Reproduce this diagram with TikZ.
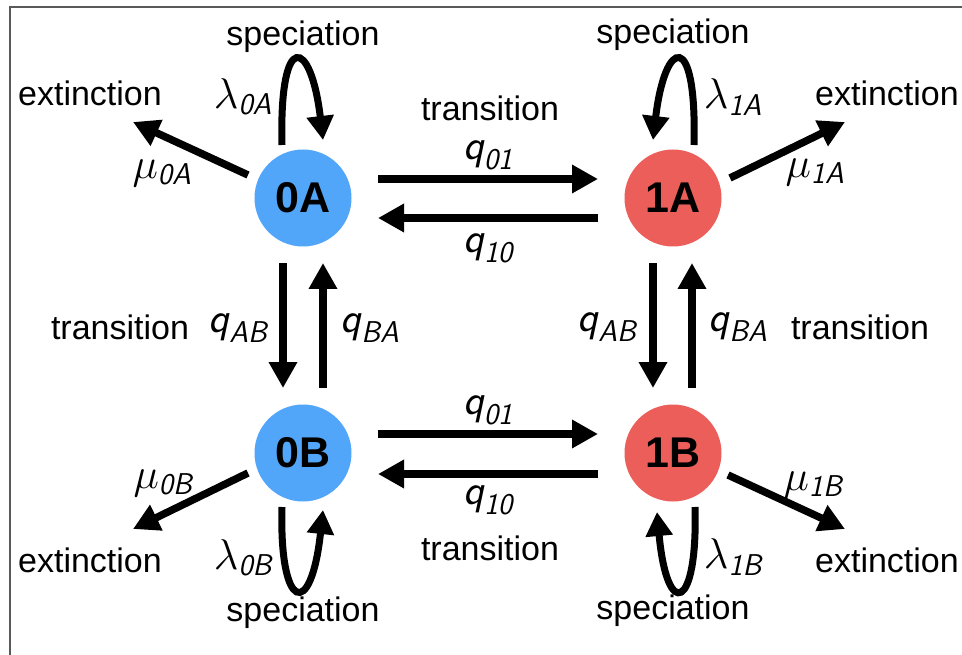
\RequirePackage{fix-cm}
\documentclass[tikz,border=0pt]{standalone}
\usepackage{amsmath}
\usepackage{fontspec}
\setmainfont{Liberation Sans}
\usetikzlibrary{arrows.meta,calc}
\definecolor{cblue}{RGB}{82,166,250}
\definecolor{cred}{RGB}{236,94,90}
\newcommand\sit[1]{\textsf{\itshape #1}}
\begin{document}
\begin{tikzpicture}[x=1pt,y=-1pt,
 state/.style={circle,minimum size=97pt,inner sep=0pt,font=\fontsize{43}{50}\selectfont\bfseries},
 lbl/.style={font=\fontsize{34}{40}\selectfont,inner sep=0pt},
 mlbl/.style={font=\fontsize{43}{50}\selectfont,inner sep=0pt},
 arr/.style={line width=7.5pt,-{Triangle[length=26pt,width=27pt]}},
 selfarr/.style={line width=7pt,-{Triangle[length=24pt,width=26pt]}}]
\useasboundingbox (0,0) rectangle (962,655);
\draw[black!65,line width=1.2pt] (10,655) -- (10,7) -- (962,7);

\node[state,fill=cblue] (A0) at (303,198) {0A};
\node[state,fill=cred]  (A1) at (673,198) {1A};
\node[state,fill=cblue] (B0) at (303,453) {0B};
\node[state,fill=cred]  (B1) at (673,453) {1B};

% horizontal transitions
\draw[arr] ($(A0)+(75,-19)$) -- ($(A1)+(-75,-19)$);
\draw[arr] ($(A1)+(-75,20)$) -- ($(A0)+(75,20)$);
\draw[arr] ($(B0)+(75,-19)$) -- ($(B1)+(-75,-19)$);
\draw[arr] ($(B1)+(-75,21)$) -- ($(B0)+(75,21)$);
% vertical transitions
\draw[arr] ($(A0)+(-20,65)$) -- ($(B0)+(-20,-65)$);
\draw[arr] ($(B0)+(20,-65)$) -- ($(A0)+(20,65)$);
\draw[arr] ($(A1)+(-20,65)$) -- ($(B1)+(-20,-65)$);
\draw[arr] ($(B1)+(19,-65)$) -- ($(A1)+(19,65)$);

% extinction
\coordinate (xA0) at (133,122);
\coordinate (xA1) at (845,122);
\coordinate (xB0) at (133,529);
\coordinate (xB1) at (845,529);
\draw[arr] ($(A0)+(-55,-23)$) -- (xA0);
\draw[arr] ($(A1)+(57,-20)$) -- (xA1);
\draw[arr] ($(B0)+(-55,20)$) -- (xB0);
\draw[arr] ($(B1)+(55,22)$) -- (xB1);

% speciation loops
\draw[selfarr] ($(A0)+(-21,-53)$) .. controls ($(A0)+(-24,-170)$) and ($(A0)+(8,-160)$) .. ($(A0)+(20,-58)$);
\draw[selfarr] ($(A1)+(21,-53)$) .. controls ($(A1)+(24,-170)$) and ($(A1)+(-8,-160)$) .. ($(A1)+(-20,-58)$);
\draw[selfarr] ($(B0)+(-21,54)$) .. controls ($(B0)+(-24,158)$) and ($(B0)+(8,168)$) .. ($(B0)+(20,57)$);
\draw[selfarr] ($(B1)+(22,54)$) .. controls ($(B1)+(25,158)$) and ($(B1)+(-6,168)$) .. ($(B1)+(-16,59)$);

% labels
\node[lbl] (sA0) at (303,37) {speciation};
\node[lbl] (sA1) at (673,35) {speciation};
\node[lbl] (sB0) at (303,613) {speciation};
\node[lbl] (sB1) at (673,611) {speciation};
\node[lbl] (eA0) at (90,93) {extinction};
\node[lbl] (eA1) at (887,93) {extinction};
\node[lbl] (eB0) at (90,560) {extinction};
\node[lbl] (eB1) at (887,560) {extinction};
\node[mlbl] (lA0) at (243,97) {$\lambda_{\sit{0A}}$};
\node[mlbl] (lA1) at (733,97) {$\lambda_{\sit{1A}}$};
\node[mlbl] (lB0) at (243,558) {$\lambda_{\sit{0B}}$};
\node[mlbl] (lB1) at (733,557) {$\lambda_{\sit{1B}}$};
\node[mlbl] (mA0) at (162,173) {$\mu_{\sit{0A}}$};
\node[mlbl] (mA1) at (815,172) {$\mu_{\sit{1A}}$};
\node[mlbl] (mB0) at (163,483) {$\mu_{\sit{0B}}$};
\node[mlbl] (mB1) at (813,485) {$\mu_{\sit{1B}}$};
\node[lbl] (tT) at (490,108) {transition};
\node[mlbl] (qT1) at (488,155) {$\sit{q}_{\sit{01}}$};
\node[mlbl] (qT2) at (488,248) {$\sit{q}_{\sit{10}}$};
\node[mlbl] (qB1) at (488,410) {$\sit{q}_{\sit{01}}$};
\node[mlbl] (qB2) at (488,500) {$\sit{q}_{\sit{10}}$};
\node[lbl] (tB) at (490,548) {transition};
\node[lbl] (tL) at (120,327) {transition};
\node[mlbl] (qL1) at (238,328) {$\sit{q}_{\sit{AB}}$};
\node[mlbl] (qL2) at (370,328) {$\sit{q}_{\sit{BA}}$};
\node[mlbl] (qR1) at (607,327) {$\sit{q}_{\sit{AB}}$};
\node[mlbl] (qR2) at (738,327) {$\sit{q}_{\sit{BA}}$};
\node[lbl] (tR) at (860,327) {transition};
\end{tikzpicture}
\end{document}
